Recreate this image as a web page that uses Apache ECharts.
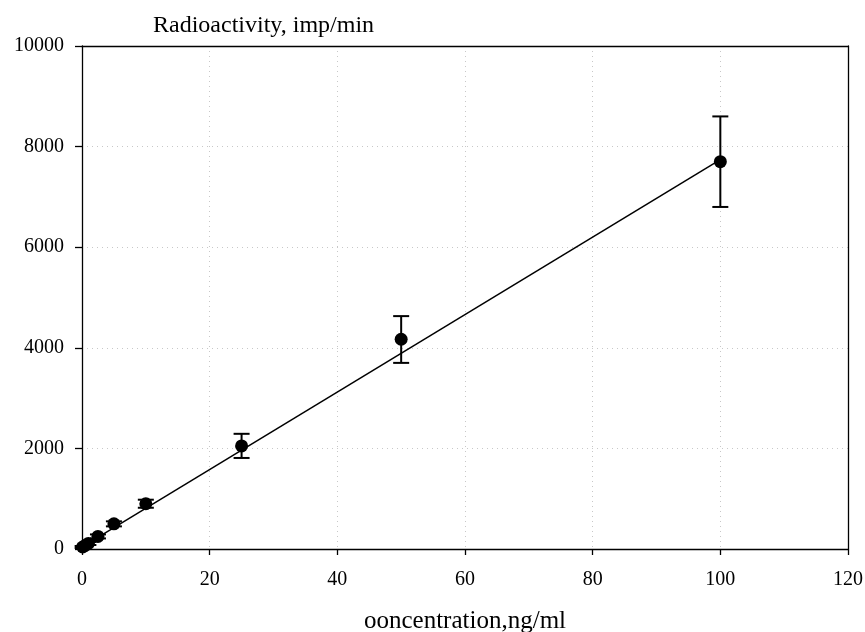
<!DOCTYPE html>
<html>
<head>
<meta charset="utf-8">
<script src="https://cdn.jsdelivr.net/npm/echarts@6/dist/echarts.min.js"></script>
<style>html,body{margin:0;padding:0;background:#fff}#c{width:865px;height:632px}</style>
</head>
<body>
<div id="c"></div>
<script>
var concentrations = [0.1, 0.5, 1, 2.5, 5, 10, 25, 50, 100];
var radioactivity = [40, 70, 110, 250, 500, 900, 2050, 4170, 7700];
var errLow = [20, 20, 30, 40, 50, 80, 240, 470, 900];
var errHigh = [20, 20, 30, 40, 50, 80, 240, 460, 900];
var fitLine = [[0.1, 48], [100, 7740]];
var xTicks = [0, 20, 40, 60, 80, 100, 120];
var yTicks = [0, 2000, 4000, 6000, 8000, 10000];
var yTitle = 'Radioactivity, imp/min';
var xTitle = 'ooncentration,ng/ml';

var FONT = 'Liberation Serif';
var points = concentrations.map(function (x, i) { return [x, radioactivity[i]]; });
var errData = concentrations.map(function (x, i) { return [x, radioactivity[i] - errLow[i], radioactivity[i] + errHigh[i]]; });

function gridLine() { return { show: true, lineStyle: { color: '#c8c8c8', type: [1, 4], width: 1 } }; }
function blackLine() { return { show: true, onZero: false, lineStyle: { color: '#000', width: 1.3 } }; }

var chart = echarts.init(document.getElementById('c'));
chart.setOption({
  animation: false,
  backgroundColor: '#fff',
  title: {
    text: yTitle, left: 148, top: 9,
    textStyle: { fontFamily: FONT, fontSize: 24, fontWeight: 'normal', color: '#000' }
  },
  grid: { left: 82, right: 17, top: 46, bottom: 83, containLabel: false, outerBoundsMode: 'none' },
  xAxis: [{
    type: 'value', position: 'bottom', min: xTicks[0], max: xTicks[xTicks.length - 1], interval: 20,
    name: xTitle, nameLocation: 'middle', nameGap: 60,
    nameTextStyle: { fontFamily: FONT, fontSize: 25, color: '#000' },
    axisLine: blackLine(),
    axisTick: { show: true, inside: false, length: 6, lineStyle: { color: '#000', width: 1.3 } },
    axisLabel: { fontFamily: FONT, fontSize: 20, color: '#000', margin: 21 },
    splitLine: gridLine()
  }, {
    type: 'value', position: 'top', min: xTicks[0], max: xTicks[xTicks.length - 1], interval: 20,
    axisLine: blackLine(), axisTick: { show: false }, axisLabel: { show: false }, splitLine: { show: false }
  }],
  yAxis: [{
    type: 'value', position: 'left', min: yTicks[0], max: yTicks[yTicks.length - 1], interval: 2000,
    axisLine: blackLine(),
    axisTick: { show: true, inside: false, length: 7, lineStyle: { color: '#000', width: 1.3 } },
    axisLabel: { fontFamily: FONT, fontSize: 20, color: '#000', margin: 18, formatter: function (v) { return String(v); } },
    splitLine: gridLine()
  }, {
    type: 'value', position: 'right', min: yTicks[0], max: yTicks[yTicks.length - 1], interval: 2000,
    axisLine: blackLine(), axisTick: { show: false }, axisLabel: { show: false }, splitLine: { show: false }
  }],
  series: [
    {
      type: 'line', data: fitLine, symbol: 'none',
      lineStyle: { color: '#000', width: 1.5 }, z: 2
    },
    {
      type: 'custom', data: errData, z: 3,
      renderItem: function (params, api) {
        var x = api.value(0);
        var lo = api.coord([x, api.value(1)]);
        var hi = api.coord([x, api.value(2)]);
        var hw = 8;
        var st = { stroke: '#000', lineWidth: 2 };
        return {
          type: 'group',
          children: [
            { type: 'line', shape: { x1: lo[0], y1: lo[1], x2: hi[0], y2: hi[1] }, style: st },
            { type: 'line', shape: { x1: lo[0] - hw, y1: lo[1], x2: lo[0] + hw, y2: lo[1] }, style: st },
            { type: 'line', shape: { x1: hi[0] - hw, y1: hi[1], x2: hi[0] + hw, y2: hi[1] }, style: st }
          ]
        };
      }
    },
    {
      type: 'scatter', data: points, symbol: 'circle', symbolSize: 13,
      itemStyle: { color: '#000', opacity: 1 }, z: 4
    }
  ]
});
</script>
</body>
</html>
